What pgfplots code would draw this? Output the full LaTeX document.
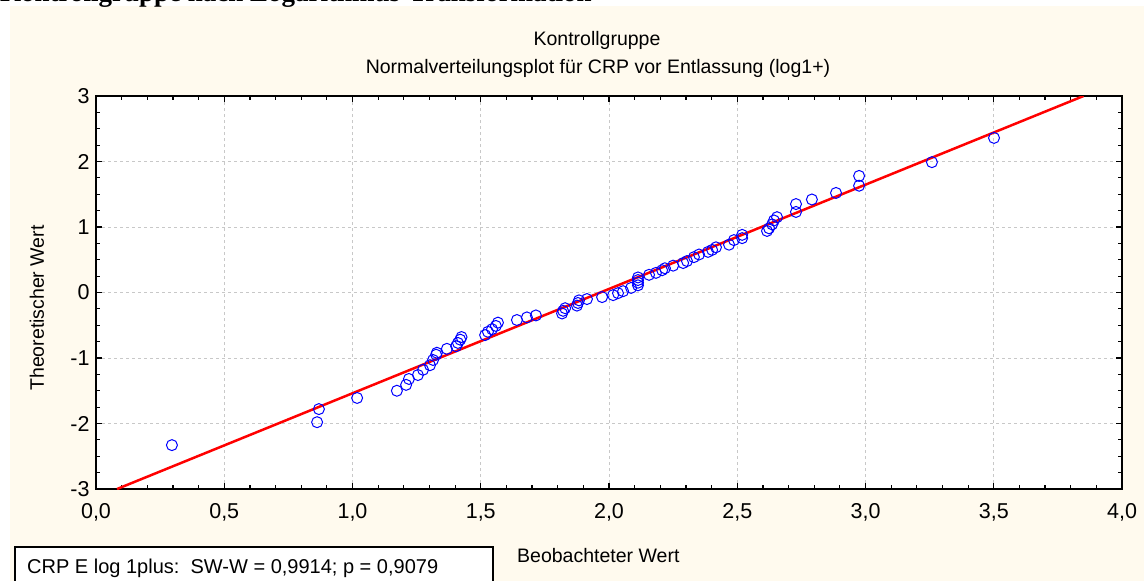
\documentclass[border=0pt]{standalone}
\usepackage{fontspec}
\setmainfont{Liberation Sans}
\newfontfamily\serifb{Liberation Serif}
\usepackage{pgfplots}
\pgfplotsset{compat=1.18}
\definecolor{cream}{RGB}{255,250,238}
\definecolor{gridgray}{RGB}{200,200,200}
\begin{document}
\begin{tikzpicture}[x=1bp,y=1bp]
\useasboundingbox (0,0) rectangle (1144,-581);
\fill[cream] (10,-6) rectangle (1144,-581);
\node[anchor=base west, inner sep=0, font=\serifb\bfseries\fontsize{27bp}{30bp}\selectfont] at (0,-2) {Kontrollgruppe nach Logarithmus-Transformation};
\begin{axis}[
  at={(96bp,-489bp)}, anchor=south west,
  scale only axis, width=1026bp, height=393bp,
  xmin=0, xmax=4, ymin=-3, ymax=3,
  axis background/.style={fill=white},
  axis line style={line width=2.2bp, black},
  tick style={black, line width=1.2bp},
  major tick length=6bp, minor tick length=4bp,
  tick align=inside,
  xtick={0,0.5,1,1.5,2,2.5,3,3.5,4},
  xticklabels={{0,0},{0,5},{1,0},{1,5},{2,0},{2,5},{3,0},{3,5},{4,0}},
  ytick={-3,-2,-1,0,1,2,3},
  yticklabels={-3,-2,-1,0,1,2,3},
  minor x tick num=4, minor y tick num=3,
  grid=major,
  major grid style={gridgray, dash pattern=on 3bp off 3bp, line width=0.8bp},
  tick label style={font=\fontsize{21.5bp}{24bp}\selectfont},
  xticklabel style={yshift=-11bp},
  yticklabel style={xshift=-3bp},
]
\addplot[red, line width=2.5bp] coordinates {(0.082,-3) (3.85,3)};
\addplot[only marks, mark=o, mark size=5.5bp, blue, mark options={line width=1bp}] table {
x y
0.296 -2.33
0.862 -1.98
0.869 -1.78
1.018 -1.61
1.173 -1.50
1.209 -1.41
1.220 -1.32
1.255 -1.26
1.275 -1.18
1.302 -1.11
1.314 -1.03
1.326 -0.95
1.329 -0.92
1.368 -0.86
1.404 -0.82
1.411 -0.77
1.420 -0.72
1.425 -0.68
1.517 -0.65
1.528 -0.60
1.544 -0.56
1.559 -0.51
1.567 -0.46
1.641 -0.42
1.680 -0.38
1.715 -0.35
1.817 -0.32
1.821 -0.28
1.829 -0.24
1.875 -0.20
1.879 -0.16
1.883 -0.12
1.914 -0.10
1.973 -0.07
2.016 -0.04
2.035 -0.01
2.055 0.02
2.086 0.07
2.113 0.11
2.113 0.15
2.113 0.19
2.113 0.23
2.156 0.27
2.183 0.30
2.207 0.34
2.218 0.37
2.250 0.41
2.289 0.45
2.304 0.48
2.331 0.54
2.351 0.58
2.386 0.62
2.402 0.65
2.417 0.69
2.468 0.73
2.487 0.80
2.519 0.83
2.519 0.88
2.616 0.94
2.624 0.98
2.636 1.04
2.643 1.10
2.655 1.15
2.729 1.23
2.729 1.35
2.791 1.42
2.885 1.52
2.975 1.63
2.975 1.78
3.259 1.99
3.501 2.36
};
\end{axis}
\node[font=\fontsize{19.5bp}{22bp}\selectfont] at (597,-40) {Kontrollgruppe};
\node[font=\fontsize{19.5bp}{22bp}\selectfont] at (598,-68) {Normalverteilungsplot für CRP vor Entlassung (log1+)};
\node[rotate=90, font=\fontsize{19.5bp}{22bp}\selectfont] at (37,-308) {Theoretischer Wert};
\node[anchor=west, inner sep=0, font=\fontsize{19.5bp}{22bp}\selectfont] at (517,-556) {Beobachteter Wert};
\draw[line width=2bp, fill=white] (15,-547) rectangle (493,-600);
\node[anchor=base west, inner sep=0, font=\fontsize{20bp}{23bp}\selectfont] at (27,-573) {CRP E log 1plus:\ \ SW-W = 0,9914; p = 0,9079};
\end{tikzpicture}
\end{document}
